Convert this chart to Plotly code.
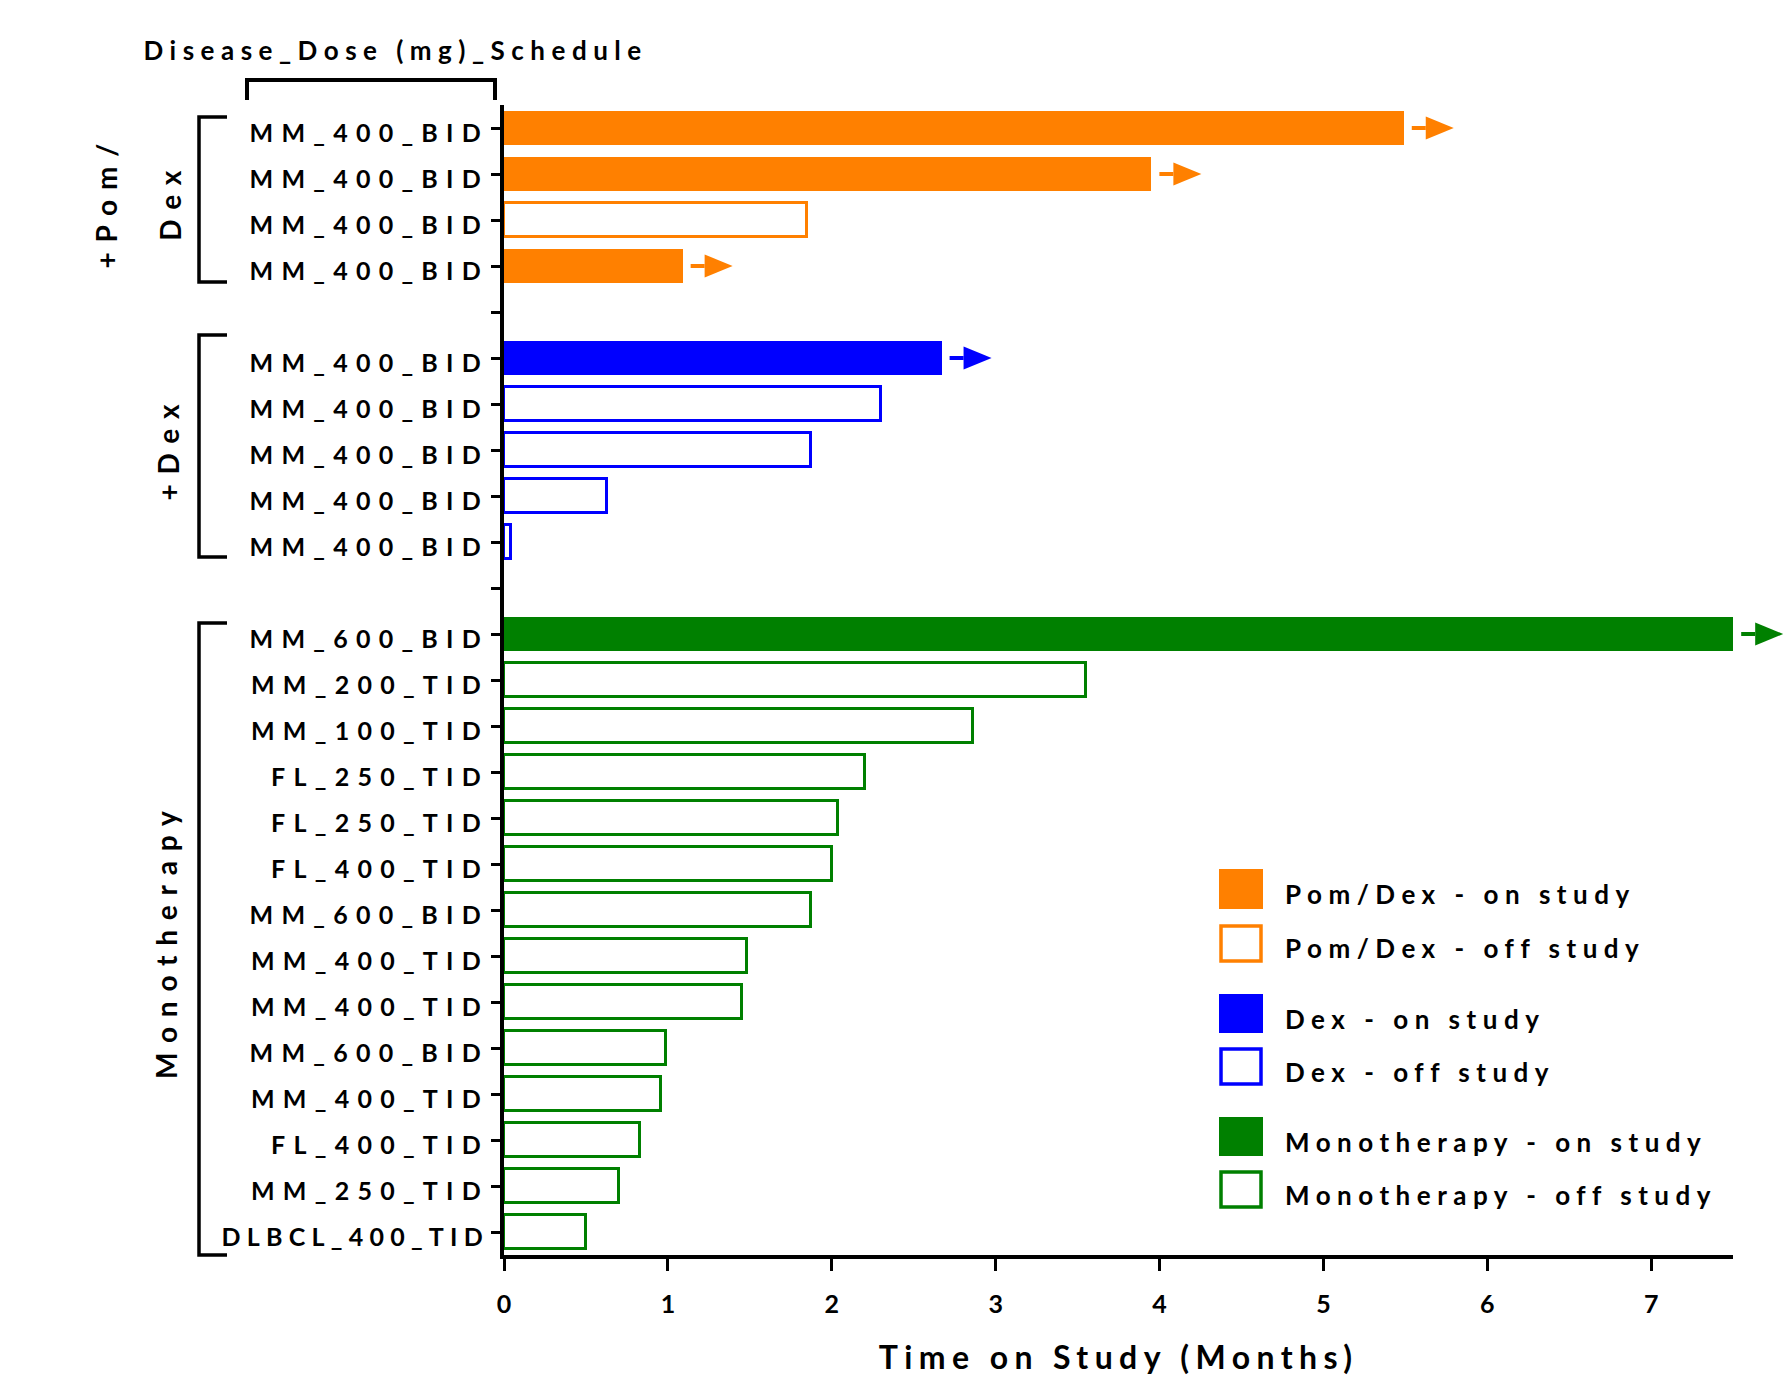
import json
import plotly.graph_objects as go

# ---------------- data ----------------
pomdex_labels = ["MM_400_BID", "MM_400_BID", "MM_400_BID", "MM_400_BID"]
pomdex_months = [5.49, 3.95, 1.85, 1.09]
pomdex_on_study = [True, True, False, True]

dex_labels = ["MM_400_BID", "MM_400_BID", "MM_400_BID", "MM_400_BID", "MM_400_BID"]
dex_months = [2.67, 2.30, 1.875, 0.63, 0.04]
dex_on_study = [True, False, False, False, False]

mono_labels = ["MM_600_BID", "MM_200_TID", "MM_100_TID", "FL_250_TID", "FL_250_TID",
               "FL_400_TID", "MM_600_BID", "MM_400_TID", "MM_400_TID", "MM_600_BID",
               "MM_400_TID", "FL_400_TID", "MM_250_TID", "DLBCL_400_TID"]
mono_months = [7.5, 3.55, 2.86, 2.20, 2.04, 2.00, 1.875, 1.48, 1.45, 0.99,
               0.96, 0.83, 0.70, 0.50]
mono_on_study = [True] + [False] * 13

group_names = ["Pom/Dex", "Dex", "Monotherapy"]
group_side_labels = [["+Pom/", "Dex"], ["+Dex"], ["Monotherapy"]]
group_colors = ["#FF8000", "#0000FF", "#008000"]
x_tick_values = [0, 1, 2, 3, 4, 5, 6, 7]

groups = [
    (pomdex_labels, pomdex_months, pomdex_on_study),
    (dex_labels, dex_months, dex_on_study),
    (mono_labels, mono_months, mono_on_study),
]

# ---------------- geometry ----------------
W, H = 1784, 1382
ML, MR, MT, MB = 504, 0, 105, 127
PW, PH = W - ML - MR, H - MT - MB
X_AXIS_END = 7.5      # visible time axis
X_MAX = 7.81          # extra room on the right for the arrow heads
FONT = "Lato"

def px_x(p):
    return (p - ML) / PW

def px_y(p):
    return (H - MB - p) / PH

px_per_month = PW / X_MAX
slot_px = PH / 25.0

# row slots: one empty slot between groups
slots = []
tick_vals, tick_text = [], []
pos = 0
for gi, (labels, months, on) in enumerate(groups):
    if gi > 0:
        tick_vals.append(pos)
        tick_text.append("")
        pos += 1
    gslots = []
    for lab in labels:
        gslots.append(pos)
        tick_vals.append(pos)
        tick_text.append(lab)
        pos += 1
    slots.append(gslots)

fig = go.Figure()

# bars
for gi, (labels, months, on) in enumerate(groups):
    col = group_colors[gi]
    for status in (True, False):
        ys = [s for s, o in zip(slots[gi], on) if o == status]
        xs = [m for m, o in zip(months, on) if o == status]
        if not xs:
            continue
        fig.add_trace(go.Bar(
            x=xs, y=ys, orientation="h", width=0.72,
            marker=dict(color=col if status else "white",
                        line=dict(color=col, width=0 if status else 3)),
            showlegend=False, hoverinfo="x",
        ))

# "still on study" arrows after the bar end (drawn on a wider overlay axis
# sharing the same months scale, so the last arrow can pass the axis end)
gap_m = 8 / px_per_month
stem_m = 22 / px_per_month
tip_m = 50 / px_per_month
half_h = 11.5 / slot_px
for gi, (labels, months, on) in enumerate(groups):
    col = group_colors[gi]
    for s, m, o in zip(slots[gi], months, on):
        if not o:
            continue
        fig.add_trace(go.Scatter(
            x=[m + gap_m, m + stem_m], y=[s, s], mode="lines", xaxis="x2",
            line=dict(color=col, width=4), showlegend=False, hoverinfo="skip"))
        fig.add_trace(go.Scatter(
            x=[m + stem_m, m + tip_m, m + stem_m, m + stem_m],
            y=[s - half_h, s, s + half_h, s - half_h], xaxis="x2",
            mode="lines", fill="toself", fillcolor=col,
            line=dict(color=col, width=0), showlegend=False, hoverinfo="skip"))

shapes = []
annotations = []
letter_spacing = []

# header bracket over the tick labels
shapes.append(dict(type="path", xref="paper", yref="paper",
                   path=f"M{px_x(247)},{px_y(100)} L{px_x(247)},{px_y(80)} "
                        f"L{px_x(495)},{px_y(80)} L{px_x(495)},{px_y(100)}",
                   line=dict(color="black", width=4)))
annotations.append(dict(text="Disease_Dose (mg)_Schedule", x=px_x(395), y=px_y(50),
                        xref="paper", yref="paper", showarrow=False,
                        xanchor="center", yanchor="middle",
                        font=dict(family=FONT, size=26, color="black", weight="bold")))
letter_spacing.append("0.25em")

# group brackets with rotated labels
bracket_spans = [(117, 282), (335, 557), (623, 1255)]
label_positions = [[(106, 201), (170, 201)], [(168, 448)], [(166, 940)]]
for gi in range(3):
    y0, y1 = bracket_spans[gi]
    shapes.append(dict(type="path", xref="paper", yref="paper",
                       path=f"M{px_x(227)},{px_y(y0)} L{px_x(199)},{px_y(y0)} "
                            f"L{px_x(199)},{px_y(y1)} L{px_x(227)},{px_y(y1)}",
                       line=dict(color="black", width=3.5)))
    for txt, (lx, ly) in zip(group_side_labels[gi], label_positions[gi]):
        annotations.append(dict(text=txt, x=px_x(lx), y=px_y(ly), xref="paper", yref="paper",
                                showarrow=False, textangle=-90,
                                xanchor="center", yanchor="middle",
                                font=dict(family=FONT, size=28, color="black", weight="bold")))
        letter_spacing.append("0.35em")

# legend
legend_rows = [(869, 909), (924, 963), (994, 1033), (1047, 1086), (1117, 1156), (1170, 1209)]
row = 0
for gi, name in enumerate(group_names):
    col = group_colors[gi]
    for status in ("on study", "off study"):
        y0, y1 = legend_rows[row]
        filled = status == "on study"
        if filled:
            shapes.append(dict(type="rect", xref="paper", yref="paper",
                               x0=px_x(1219), x1=px_x(1263), y0=px_y(y1), y1=px_y(y0),
                               fillcolor=col, line=dict(width=0)))
        else:
            shapes.append(dict(type="rect", xref="paper", yref="paper",
                               x0=px_x(1221), x1=px_x(1261), y0=px_y(y1 - 2), y1=px_y(y0 + 2),
                               fillcolor="white", line=dict(color=col, width=3.5)))
        annotations.append(dict(text=f"{name} - {status}", x=px_x(1283),
                                y=px_y((y0 + y1) / 2 + 5), xref="paper", yref="paper",
                                showarrow=False, xanchor="left", yanchor="middle", align="left",
                                font=dict(family=FONT, size=26, color="black", weight="bold")))
        letter_spacing.append("0.25em")
        row += 1

fig.update_layout(
    width=W, height=H,
    margin=dict(l=ML, r=MR, t=MT, b=MB, pad=0),
    plot_bgcolor="rgba(0,0,0,0)", paper_bgcolor="white",
    barmode="overlay", bargap=0,
    showlegend=False,
    shapes=shapes, annotations=annotations,
    font=dict(family=FONT, color="black"),
    xaxis=dict(
        domain=[0, X_AXIS_END / X_MAX], range=[0, X_AXIS_END], anchor="y",
        tickvals=x_tick_values, ticks="outside", ticklen=12,
        tickwidth=3, tickcolor="black", showline=True, linewidth=4, linecolor="black",
        showgrid=False, zeroline=False, ticklabelstandoff=12,
        tickfont=dict(family=FONT, size=25, color="black", weight="bold"),
        title=dict(text="Time on Study (Months)", standoff=31,
                   font=dict(family=FONT, size=32, color="black", weight="bold")),
    ),
    xaxis2=dict(domain=[0, 1], range=[0, X_MAX], anchor="y", visible=False),
    yaxis=dict(
        anchor="x",
        range=[24.5, -0.5], tickvals=tick_vals, ticktext=tick_text, ticks="outside",
        ticklen=9, tickwidth=3, tickcolor="black", showline=True, linewidth=4,
        linecolor="black", showgrid=False, zeroline=False,
        ticklabelstandoff=-3, ticklabelshift=-5,
        tickfont=dict(family=FONT, size=25, color="black", weight="bold"),
    ),
)

# widen character spacing of the text labels (longer row labels a little less)
post = """
var gd = document.getElementById('{plot_id}');
var spacing = %s;
gd.querySelectorAll('.ytick text').forEach(function(t){
  t.style.letterSpacing = (t.textContent.length > 10) ? '0.25em' : '0.33em';
});
gd.querySelectorAll('.xtitle').forEach(function(t){ t.style.letterSpacing = '0.2em'; });
gd.querySelectorAll('g.annotation').forEach(function(g, i){
  var t = g.querySelector('text');
  if (t && spacing[i]) { t.style.letterSpacing = spacing[i]; }
});
""" % json.dumps(letter_spacing)

fig.write_html("out.html", post_script=post)
